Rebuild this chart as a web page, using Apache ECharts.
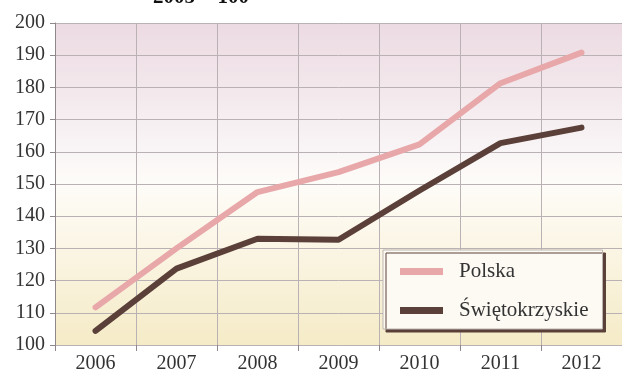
<!DOCTYPE html>
<html>
<head>
<meta charset="utf-8">
<style>
  html, body { margin: 0; padding: 0; background: #fff; }
  #chart { width: 622px; height: 377px; }
</style>
<script src="https://cdn.jsdelivr.net/npm/echarts@6/dist/echarts.min.js"></script>
</head>
<body>
<div id="chart"></div>
<script>
  // lata
  const years = ['2006', '2007', '2008', '2009', '2010', '2011', '2012']
  // 2005 = 100
  const polska = [111.7, 130, 147.5, 153.7, 162.3, 181.3, 190.8]
  const swietokrzyskie = [104.4, 123.7, 133, 132.7, 148, 162.7, 167.5]

  const serif = '"Liberation Serif", "DejaVu Serif", serif'
  const gridColor = '#b9b1b3'

  const chart = echarts.init(document.getElementById('chart'), null, { renderer: 'canvas' })

  chart.setOption({
    animation: false,
    backgroundColor: '#ffffff',
    graphic: [{
      type: 'text',
      left: 153,
      top: -13,
      style: {
        text: '2005 = 100',
        font: 'bold 21px ' + serif,
        fill: '#111'
      }
    }],
    grid: {
      left: 55,
      right: -5,
      top: 23,
      bottom: 32,
      show: true,
      borderWidth: 0,
      backgroundColor: new echarts.graphic.LinearGradient(0, 0, 0, 1, [
        { offset: 0, color: '#ecdae2' },
        { offset: 0.4, color: '#f9f5f6' },
        { offset: 0.5, color: '#fefcf8' },
        { offset: 1, color: '#f5ebc7' }
      ])
    },
    legend: {
      orient: 'vertical',
      left: 383,
      top: 250,
      padding: [11, 14, 8, 17],
      itemGap: 18,
      itemWidth: 43,
      itemHeight: 7,
      icon: 'rect',
      backgroundColor: '#fdfaf4',
      borderColor: '#bdb5b0',
      borderWidth: 1,
      shadowColor: '#5a4038',
      shadowBlur: 0,
      shadowOffsetX: 3,
      shadowOffsetY: 3,
      textStyle: {
        fontFamily: serif,
        fontSize: 21,
        color: '#333',
        padding: [0, 0, 0, 11]
      },
      data: ['Polska', 'Świętokrzyskie']
    },
    xAxis: {
      type: 'category',
      data: years,
      boundaryGap: true,
      axisLine: { show: true, lineStyle: { color: gridColor } },
      axisTick: { show: true, length: 6, lineStyle: { color: '#8f8789' } },
      splitLine: { show: true, lineStyle: { color: gridColor, width: 1 } },
      axisLabel: {
        fontFamily: serif,
        fontSize: 20,
        color: '#333',
        margin: 9
      }
    },
    yAxis: {
      type: 'value',
      min: 100,
      max: 200,
      interval: 10,
      axisLine: { show: true, lineStyle: { color: '#8f8789' } },
      axisTick: { show: true, length: 5, lineStyle: { color: '#8f8789' } },
      splitLine: { show: true, lineStyle: { color: gridColor, width: 1 } },
      axisLabel: {
        fontFamily: serif,
        fontSize: 20,
        color: '#333',
        margin: 10
      }
    },
    series: [{
      name: 'Polska',
      type: 'line',
      data: polska,
      symbol: 'none',
      color: '#e8a8aa',
      lineStyle: { width: 6, color: '#e8a8aa', cap: 'round', join: 'round' }
    }, {
      name: 'Świętokrzyskie',
      type: 'line',
      data: swietokrzyskie,
      symbol: 'none',
      color: '#5a4038',
      lineStyle: { width: 6, color: '#5a4038', cap: 'round', join: 'round' }
    }]
  })
</script>
</body>
</html>
